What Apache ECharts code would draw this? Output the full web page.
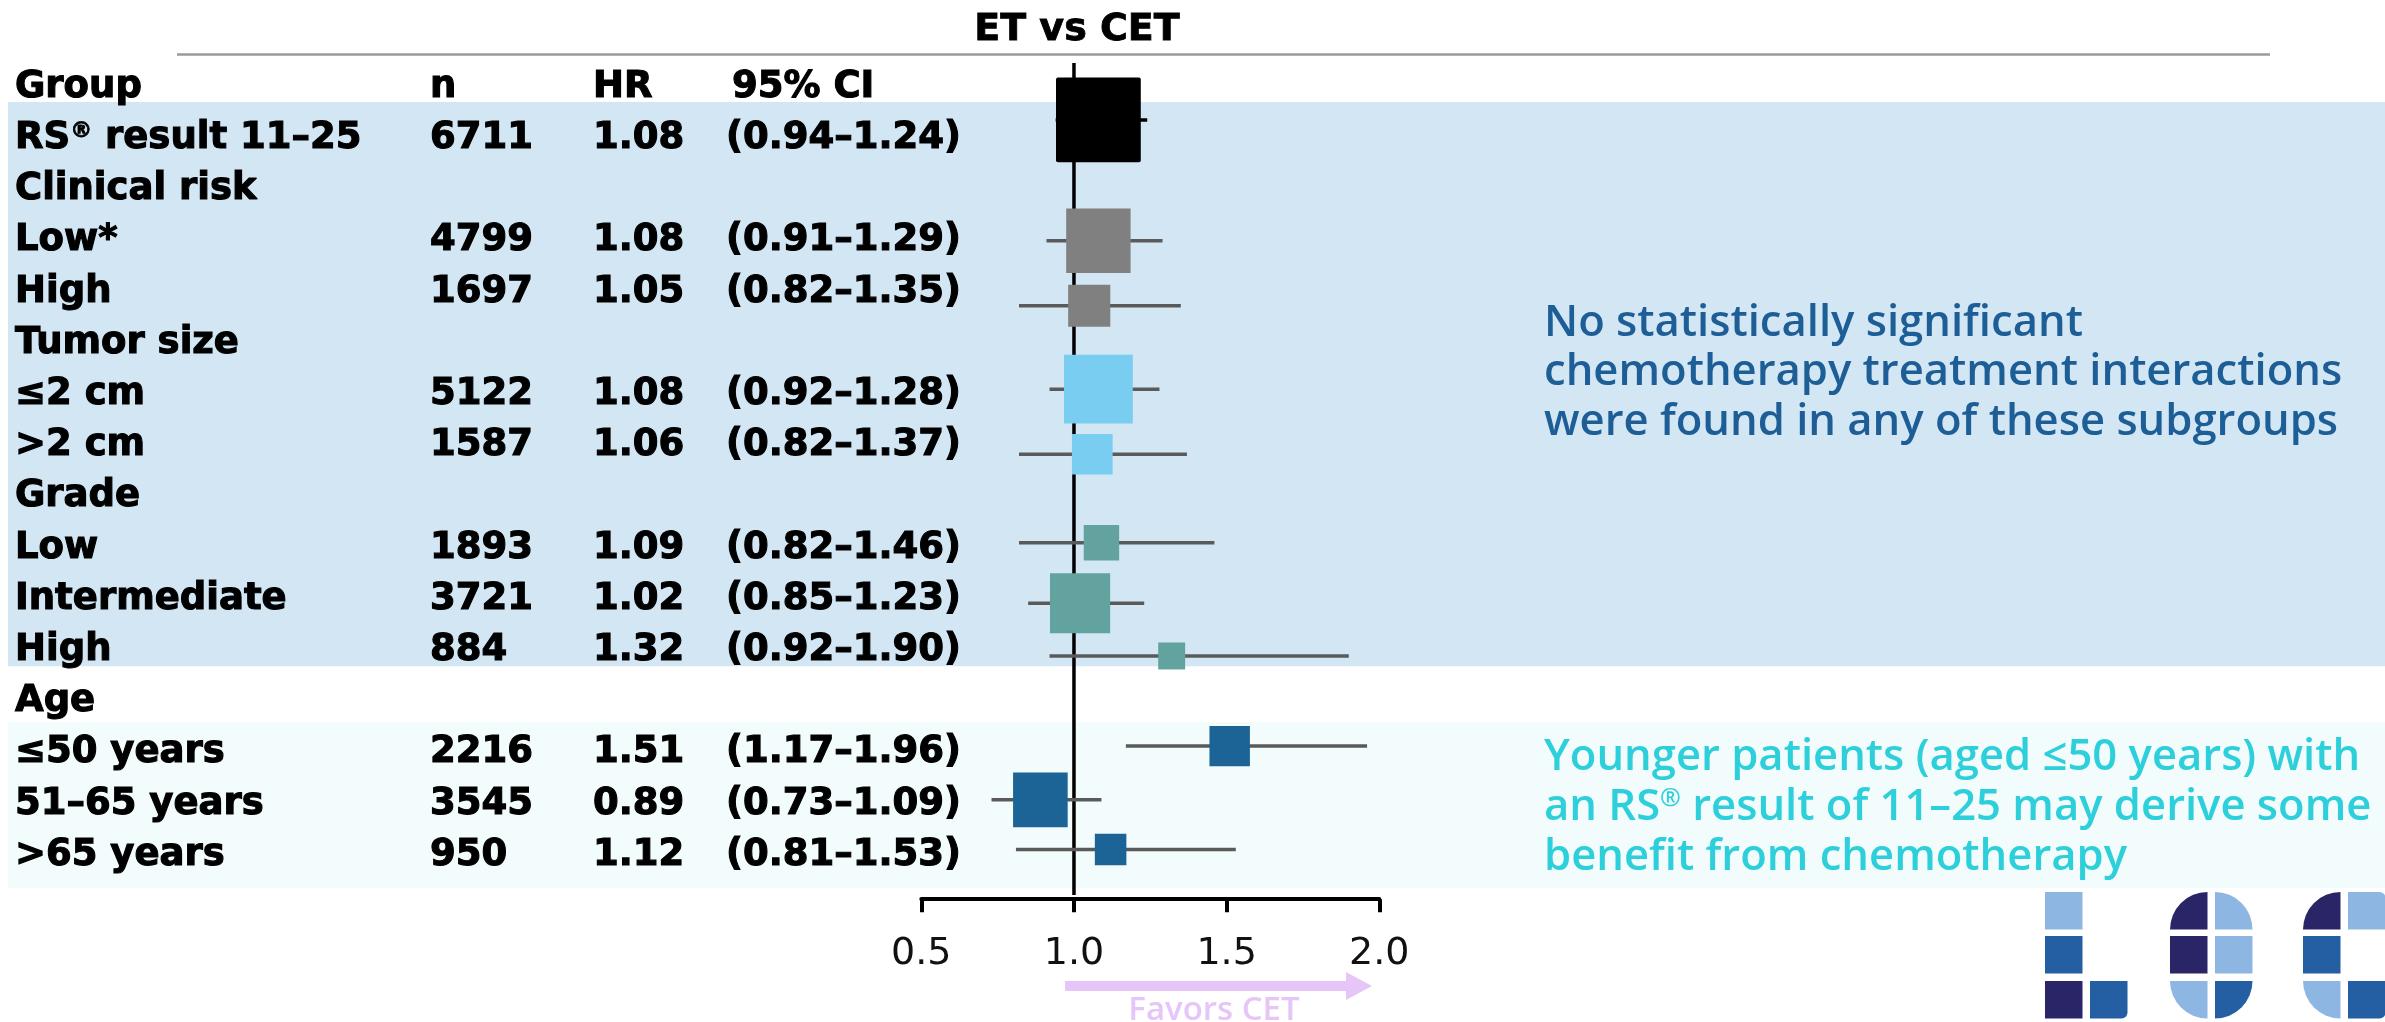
<!DOCTYPE html>
<html>
<head>
<meta charset="utf-8">
<script src="https://cdn.jsdelivr.net/npm/echarts@6/dist/echarts.min.js"></script>
<style>
  html, body { margin: 0; padding: 0; background: #ffffff; }
  #chart { width: 2385px; height: 1022px; }
</style>
</head>
<body>
<div id="chart"></div>
<script>
// ---- table content -------------------------------------------------------
const columnHeaders = ['Group', 'n', 'HR', '95% CI'];

// One entry per table row below the header; section titles have no estimate
const rowLabels = [
  'RS{sup|®} result 11–25', 'Clinical risk', 'Low*', 'High',
  'Tumor size', '≤2 cm', '>2 cm',
  'Grade', 'Low', 'Intermediate', 'High',
  'Age', '≤50 years', '51–65 years', '>65 years'
];
// index into the estimate arrays for each row (-1 = section title)
const rowEstimate = [0, -1, 1, 2, -1, 3, 4, -1, 5, 6, 7, -1, 8, 9, 10];

// ---- estimates (ET vs CET) -----------------------------------------------
const patients    = [6711, 4799, 1697, 5122, 1587, 1893, 3721, 884, 2216, 3545, 950];
const hazardRatio = [1.08, 1.08, 1.05, 1.08, 1.06, 1.09, 1.02, 1.32, 1.51, 0.89, 1.12];
const ciLower     = [0.94, 0.91, 0.82, 0.92, 0.82, 0.82, 0.85, 0.92, 1.17, 0.73, 0.81];
const ciUpper     = [1.24, 1.29, 1.35, 1.28, 1.37, 1.46, 1.23, 1.90, 1.96, 1.09, 1.53];
// vertical plotting position of each estimate on the row scale
const markerRow   = [0.74, 3.10, 4.37, 6.00, 7.27, 9.00, 10.18, 11.21, 12.97, 14.02, 14.99];
// subgroup family of each estimate: overall, clinical risk, tumor size, grade, age
const estimateFamily = [0, 1, 1, 2, 2, 3, 3, 3, 4, 4, 4];

const xTicks = [0.5, 1.0, 1.5, 2.0];

// ---- styling ---------------------------------------------------------------
const familyFill    = ['#000000', '#808080', '#79cdf0', '#62a39f', '#1c6396'];
const familyWhisker = ['#000000', '#5a5a5a', '#5a5a5a', '#5a5a5a', '#5a5a5a'];
const TABLE_FONT = '"DejaVu Sans", sans-serif';
const TABLE_SIZE = 37;
const COL_X = [15, 430, 593, 726];
const HEADER_CI_X = 732;
const TEXT_ROW_SHIFT = 0.1;   // table text sits slightly below the row line

const chart = echarts.init(document.getElementById('chart'), null, { renderer: 'canvas' });

function tableText(x, y, text) {
  return {
    type: 'text', x: x, y: y,
    style: {
      text: text, fill: '#000', align: 'left', verticalAlign: 'middle',
      fontFamily: TABLE_FONT, fontWeight: 'bold', fontSize: TABLE_SIZE,
      stroke: '#000', lineWidth: 1.1,
      rich: { sup: { fontFamily: TABLE_FONT, fontWeight: 'bold', fontSize: 22, verticalAlign: 'top',
                     fill: '#000', stroke: '#000', lineWidth: 0.8 } }
    }
  };
}

function renderTableRow(params, api) {
  const r = api.value(1);
  const y = api.coord([1, r + TEXT_ROW_SHIFT])[1];
  if (r === 0) {
    return { type: 'group', children: [
      tableText(COL_X[0], y, columnHeaders[0]),
      tableText(COL_X[1], y, columnHeaders[1]),
      tableText(COL_X[2], y, columnHeaders[2]),
      tableText(HEADER_CI_X, y, columnHeaders[3])
    ]};
  }
  const k = rowEstimate[r - 1];
  const children = [tableText(COL_X[0], y, rowLabels[r - 1])];
  if (k >= 0) {
    children.push(tableText(COL_X[1], y, String(patients[k])));
    children.push(tableText(COL_X[2], y, hazardRatio[k].toFixed(2)));
    children.push(tableText(COL_X[3], y, '(' + ciLower[k].toFixed(2) + '–' + ciUpper[k].toFixed(2) + ')'));
  }
  return { type: 'group', children: children };
}

function renderEstimate(params, api) {
  const i = params.dataIndex;
  const c = api.coord([api.value(0), api.value(1)]);
  const lo = api.coord([ciLower[i], api.value(1)]);
  const hi = api.coord([ciUpper[i], api.value(1)]);
  // box side grows with precision of the estimate (narrower CI -> bigger box)
  const side = 18.4 * Math.pow(1 / Math.log(ciUpper[i] / ciLower[i]), 1.19);
  const fam = estimateFamily[i];
  return { type: 'group', children: [
    { type: 'line', shape: { x1: lo[0], y1: c[1], x2: hi[0], y2: c[1] },
      style: { stroke: familyWhisker[fam], lineWidth: 3.5 } },
    { type: 'rect', shape: { x: c[0] - side / 2, y: c[1] - side / 2, width: side, height: side, r: fam === 0 ? 2 : 0 },
      style: { fill: familyFill[fam] } }
  ]};
}

// shaded row groups: [first row edge, last row edge, colour]
const bandData = [[0.39, 11.41, '#d3e6f4'], [12.5, 15.74, '#f3fcfc']];

function renderBand(params, api) {
  const b = bandData[params.dataIndex];
  const y1 = api.coord([1, b[0]])[1];
  const y2 = api.coord([1, b[1]])[1];
  return { type: 'rect', shape: { x: 8, y: y1, width: api.getWidth() - 8, height: y2 - y1 },
           style: { fill: b[2] } };
}

function renderReference(params, api) {
  const top = api.coord([api.value(0), api.value(1)]);
  const bottom = api.coord([api.value(0), api.value(2)]);
  return { type: 'line', shape: { x1: top[0], y1: top[1], x2: bottom[0], y2: bottom[1] },
           style: { stroke: '#000', lineWidth: 3.5 } };
}

// ---- decorations -----------------------------------------------------------
const NOTE_FONT = '"Open Sans", sans-serif';
function noteLine(y, text, color) {
  return { type: 'text', x: 1544, y: y, z: 10,
    style: { text: text, fill: color, fontFamily: NOTE_FONT, fontWeight: 600, fontSize: 43.6,
             align: 'left', verticalAlign: 'middle',
             rich: { sup: { fontFamily: NOTE_FONT, fontWeight: 600, fontSize: 25, verticalAlign: 'top', fill: color } } } };
}

const LOGO_LIGHT = '#8db7e2', LOGO_MID = '#245fa3', LOGO_DARK = '#2a2566';
const S = 37.5;
function logoCell(x, y, fill, r) {
  return { type: 'rect', z: 10, shape: { x: x, y: y, width: S, height: S, r: r || 0 }, style: { fill: fill } };
}

const ARROW = '#e6c6f8';
const graphics = [
  { type: 'text', x: 1077, y: 30, z: 10,
    style: { text: 'ET vs CET', fill: '#000', fontFamily: TABLE_FONT, fontWeight: 'bold', fontSize: 38,
             stroke: '#000', lineWidth: 0.8, align: 'center', verticalAlign: 'middle' } },
  { type: 'line', z: 10, shape: { x1: 177, y1: 54.5, x2: 2270, y2: 54.5 },
    style: { stroke: '#9a9a9a', lineWidth: 2.5 } },
  noteLine(324, 'No statistically significant', '#1e5e96'),
  noteLine(373, 'chemotherapy treatment interactions', '#1e5e96'),
  noteLine(423, 'were found in any of these subgroups', '#1e5e96'),
  noteLine(758, 'Younger patients (aged ≤50 years) with', '#2dcfdb'),
  noteLine(808, 'an RS{sup|®} result of 11–25 may derive some', '#2dcfdb'),
  noteLine(858, 'benefit from chemotherapy', '#2dcfdb'),
  // favours-CET arrow
  { type: 'rect', z: 10, shape: { x: 1065, y: 981, width: 283, height: 10 }, style: { fill: ARROW } },
  { type: 'polygon', z: 10, shape: { points: [[1346, 972], [1372, 986], [1346, 1000]] }, style: { fill: ARROW } },
  { type: 'text', x: 1214, y: 1011, z: 10,
    style: { text: 'Favors CET', fill: ARROW, fontFamily: NOTE_FONT, fontWeight: 600, fontSize: 33,
             align: 'center', verticalAlign: 'middle' } },
  // logo
  logoCell(2045, 892, LOGO_LIGHT), logoCell(2045, 936, LOGO_MID), logoCell(2045, 981, LOGO_DARK),
  logoCell(2090, 981, LOGO_MID, [0, 0, 6, 0]),
  logoCell(2170, 892, LOGO_DARK, [S, 0, 0, 0]), logoCell(2215, 892, LOGO_LIGHT, [0, S, 0, 0]),
  logoCell(2170, 936, LOGO_DARK), logoCell(2215, 936, LOGO_LIGHT),
  logoCell(2170, 981, LOGO_LIGHT, [0, 0, 0, S]), logoCell(2215, 981, LOGO_MID, [0, 0, S, 0]),
  logoCell(2303, 892, LOGO_DARK, [S, 0, 0, 0]), logoCell(2348, 892, LOGO_LIGHT, [0, 6, 0, 0]),
  logoCell(2303, 936, LOGO_MID),
  logoCell(2303, 981, LOGO_LIGHT, [0, 0, 0, S]), logoCell(2348, 981, LOGO_MID, [0, 0, 6, 0])
];

const tableRows = [[1, 0]].concat(rowLabels.map((_, i) => [1, i + 1]));
const estimates = hazardRatio.map((h, i) => [h, markerRow[i]]);

chart.setOption({
  animation: false,
  backgroundColor: '#ffffff',
  grid: { left: 921.3, width: 458, top: 30.8, height: 868.4, containLabel: false, outerBoundsMode: 'none' },
  xAxis: {
    type: 'value', min: xTicks[0], max: xTicks[xTicks.length - 1], interval: 0.5,
    axisLine: { onZero: false, lineStyle: { color: '#000', width: 4 } },
    axisTick: { length: 13, lineStyle: { color: '#000', width: 4 } },
    axisLabel: { fontFamily: TABLE_FONT, fontSize: 38, color: '#111', margin: 36,
                 formatter: v => v.toFixed(1) },
    splitLine: { show: false }
  },
  yAxis: { type: 'value', min: -1, max: 15.96, inverse: true, show: false },
  graphic: { elements: graphics },
  series: [
    { type: 'custom', name: 'bands', z: 0, silent: true, data: bandData.map(b => [1, b[0]]), renderItem: renderBand },
    { type: 'custom', name: 'table', z: 2, silent: true, data: tableRows, renderItem: renderTableRow },
    { type: 'custom', name: 'reference', z: 3, silent: true, data: [[1, -0.37, 15.88]],
      encode: { x: 0, y: [1, 2] }, renderItem: renderReference },
    { type: 'custom', name: 'ET vs CET', z: 4, silent: true, data: estimates, renderItem: renderEstimate }
  ]
});
</script>
</body>
</html>
